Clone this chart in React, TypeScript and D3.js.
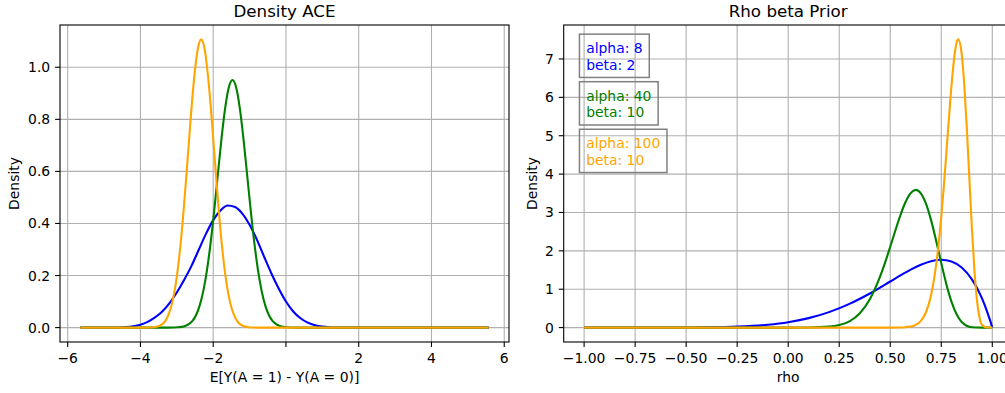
import React, { useEffect, useRef } from "react";
import * as d3 from "d3";

type Pt = [number, number];

// ---- Left panel: Density ACE ----
const aceBlue: Pt[] = [
  [-5.65, 0], [-4.8, 0], [-4.6, 0.0005], [-4.4, 0.002], [-4.2, 0.005], [-4.0, 0.011], [-3.8, 0.022],
  [-3.6, 0.039], [-3.4, 0.062], [-3.2, 0.094], [-3.0, 0.135], [-2.8, 0.183], [-2.6, 0.236],
  [-2.4, 0.298], [-2.2, 0.36], [-2.0, 0.413], [-1.8, 0.45], [-1.6, 0.469], [-1.4, 0.463],
  [-1.2, 0.438], [-1.0, 0.395], [-0.8, 0.338], [-0.6, 0.272], [-0.4, 0.208], [-0.2, 0.15],
  [0.0, 0.1], [0.2, 0.062], [0.4, 0.036], [0.6, 0.019], [0.8, 0.009], [1.0, 0.004],
  [1.2, 0.0015], [1.4, 0.0005], [1.7, 0], [5.57, 0],
];
const aceGreen: Pt[] = [
  [-5.65, 0], [-3.47, 0], [-3.27, 0.00005], [-3.07, 0.0005], [-2.97, 0.0012], [-2.87, 0.0028],
  [-2.77, 0.0062], [-2.67, 0.0131], [-2.57, 0.026], [-2.47, 0.0486], [-2.37, 0.0855],
  [-2.27, 0.142], [-2.17, 0.222], [-2.07, 0.326], [-1.97, 0.452], [-1.87, 0.591], [-1.77, 0.728],
  [-1.67, 0.844], [-1.57, 0.923], [-1.47, 0.951], [-1.37, 0.923], [-1.27, 0.844], [-1.17, 0.728],
  [-1.07, 0.591], [-0.97, 0.452], [-0.87, 0.326], [-0.77, 0.222], [-0.67, 0.142], [-0.57, 0.0855],
  [-0.47, 0.0486], [-0.37, 0.026], [-0.27, 0.0131], [-0.17, 0.0062], [-0.07, 0.0028],
  [0.03, 0.0012], [0.13, 0.0005], [0.33, 0.00005], [0.53, 0], [5.57, 0],
];
const aceOrange: Pt[] = [
  [-5.65, 0], [-3.93, 0], [-3.73, 0.0005], [-3.63, 0.0016], [-3.53, 0.004], [-3.43, 0.01],
  [-3.33, 0.023], [-3.23, 0.049], [-3.13, 0.094], [-3.03, 0.167], [-2.93, 0.276], [-2.83, 0.422],
  [-2.73, 0.597], [-2.63, 0.783], [-2.53, 0.949], [-2.43, 1.065], [-2.33, 1.107], [-2.23, 1.065],
  [-2.13, 0.949], [-2.03, 0.783], [-1.93, 0.597], [-1.83, 0.422], [-1.73, 0.276], [-1.63, 0.167],
  [-1.53, 0.094], [-1.43, 0.049], [-1.33, 0.023], [-1.23, 0.01], [-1.13, 0.004], [-1.03, 0.0016],
  [-0.93, 0.0005], [-0.73, 0], [5.57, 0],
];
const aceXTicks = [-6, -4, -2, 0, 2, 4, 6];
const aceXTickLabels = ["\u22126", "\u22124", "\u22122", "", "2", "4", "6"];
const aceYTicks = [0, 0.2, 0.4, 0.6, 0.8, 1.0];
const aceYTickLabels = ["0.0", "0.2", "0.4", "0.6", "0.8", "1.0"];

// ---- Right panel: Rho beta Prior ----
const rhoBlue: Pt[] = [
  [-1, 0], [-0.75, 0], [-0.6, 0.0004], [-0.5, 0.0017], [-0.4, 0.0055], [-0.25, 0.024],
  [-0.1, 0.074], [0, 0.141], [0.1, 0.247], [0.2, 0.403], [0.3, 0.618], [0.4, 0.889], [0.5, 1.201],
  [0.55, 1.36], [0.6, 1.51], [0.65, 1.639], [0.7, 1.731], [0.75, 1.767], [0.8, 1.722],
  [0.85, 1.564], [0.9, 1.257], [0.925, 1.033], [0.95, 0.754], [0.975, 0.412], [0.99, 0.174], [1, 0],
];
const rhoGreen: Pt[] = [
  [-1, 0], [0, 0.0001], [0.1, 0.0023], [0.2, 0.0242], [0.25, 0.066], [0.3, 0.164], [0.35, 0.367],
  [0.4, 0.738], [0.45, 1.326], [0.475, 1.698], [0.5, 2.108], [0.525, 2.531], [0.55, 2.933],
  [0.575, 3.273], [0.6, 3.506], [0.625, 3.59], [0.65, 3.5], [0.675, 3.229], [0.7, 2.8],
  [0.725, 2.261], [0.75, 1.68], [0.775, 1.132], [0.8, 0.677], [0.825, 0.349], [0.85, 0.148],
  [0.9, 0.0109], [0.95, 0.00002], [1, 0],
];
const rhoOrange: Pt[] = [
  [-1, 0], [0.5, 0], [0.55, 0.0035], [0.575, 0.0101], [0.6, 0.028], [0.625, 0.072], [0.65, 0.176],
  [0.675, 0.4], [0.7, 0.845], [0.725, 1.638], [0.7375, 2.202], [0.75, 2.886], [0.7625, 3.68],
  [0.775, 4.553], [0.7875, 5.453], [0.8, 6.3], [0.8125, 6.99], [0.825, 7.421], [0.8333, 7.51],
  [0.85, 7.128], [0.8625, 6.344], [0.875, 5.217], [0.8875, 3.902], [0.9, 2.598], [0.9125, 1.495],
  [0.925, 0.712], [0.9375, 0.262], [0.95, 0.066], [0.975, 0.0005], [1, 0],
];
const rhoXTicks = [-1, -0.75, -0.5, -0.25, 0, 0.25, 0.5, 0.75, 1];
const rhoXTickLabels = ["\u22121.00", "\u22120.75", "\u22120.50", "\u22120.25", "0.00", "0.25", "0.50", "0.75", "1.00"];
const rhoYTicks = [0, 1, 2, 3, 4, 5, 6, 7];
const rhoYTickLabels = ["0", "1", "2", "3", "4", "5", "6", "7"];

const priorAlpha = [8, 40, 100];
const priorBeta = [2, 10, 10];
const seriesColors = ["blue", "green", "orange"];

const FONT = "'DejaVu Sans', sans-serif";

export default function App() {
  const ref = useRef<SVGSVGElement>(null);

  useEffect(() => {
    const svg = d3.select(ref.current!);
    svg.selectAll("*").remove();

    const panels = [
      {
        left: 60, top: 25, width: 449, height: 317,
        series: [aceBlue, aceGreen, aceOrange],
        xTicks: aceXTicks, xTickLabels: aceXTickLabels,
        yTicks: aceYTicks, yTickLabels: aceYTickLabels,
        title: "Density ACE", xLabel: "E[Y(A = 1) - Y(A = 0)]", yLabelX: 18.5,
        boxes: false,
      },
      {
        left: 563.7, top: 25, width: 449, height: 317,
        series: [rhoBlue, rhoGreen, rhoOrange],
        xTicks: rhoXTicks, xTickLabels: rhoXTickLabels,
        yTicks: rhoYTicks, yTickLabels: rhoYTickLabels,
        title: "Rho beta Prior", xLabel: "rho", yLabelX: 536.5,
        boxes: true,
      },
    ];

    panels.forEach((p) => {
      const all = p.series.flat();
      const [x0, x1] = d3.extent(all, (d) => d[0]) as [number, number];
      const [y0, y1] = d3.extent(all, (d) => d[1]) as [number, number];
      const mx = (x1 - x0) * 0.05;
      const my = (y1 - y0) * 0.05;
      const x = d3.scaleLinear().domain([x0 - mx, x1 + mx]).range([p.left, p.left + p.width]);
      const y = d3.scaleLinear().domain([y0 - my, y1 + my]).range([p.top + p.height, p.top]);

      const g = svg.append("g");

      // grid
      g.selectAll(".vg").data(p.xTicks).enter().append("line")
        .attr("x1", (d) => x(d)).attr("x2", (d) => x(d))
        .attr("y1", p.top).attr("y2", p.top + p.height)
        .attr("stroke", "#b0b0b0").attr("stroke-width", 1.1);
      g.selectAll(".hg").data(p.yTicks).enter().append("line")
        .attr("x1", p.left).attr("x2", p.left + p.width)
        .attr("y1", (d) => y(d)).attr("y2", (d) => y(d))
        .attr("stroke", "#b0b0b0").attr("stroke-width", 1.1);

      // lines
      const line = d3.line<Pt>().x((d) => x(d[0])).y((d) => y(d[1])).curve(d3.curveMonotoneX);
      p.series.forEach((s, i) => {
        g.append("path").attr("d", line(s)!).attr("fill", "none")
          .attr("stroke", seriesColors[i]).attr("stroke-width", 2.1)
          .attr("stroke-linejoin", "round").attr("stroke-linecap", "butt");
      });

      // spines
      g.append("rect").attr("x", p.left).attr("y", p.top).attr("width", p.width).attr("height", p.height)
        .attr("fill", "none").attr("stroke", "black").attr("stroke-width", 1.1);

      // x ticks
      p.xTicks.forEach((t, i) => {
        g.append("line").attr("x1", x(t)).attr("x2", x(t))
          .attr("y1", p.top + p.height).attr("y2", p.top + p.height + 4.9)
          .attr("stroke", "black").attr("stroke-width", 1.1);
        g.append("text").attr("x", x(t)).attr("y", p.top + p.height + 21)
          .attr("text-anchor", "middle").attr("font-family", FONT).attr("font-size", 13.9)
          .attr("fill", "black").text(p.xTickLabels[i]);
      });
      // y ticks
      p.yTicks.forEach((t, i) => {
        g.append("line").attr("x1", p.left - 4.9).attr("x2", p.left)
          .attr("y1", y(t)).attr("y2", y(t))
          .attr("stroke", "black").attr("stroke-width", 1.1);
        g.append("text").attr("x", p.left - 9.8).attr("y", y(t)).attr("dy", "0.36em")
          .attr("text-anchor", "end").attr("font-family", FONT).attr("font-size", 13.9)
          .attr("fill", "black").text(p.yTickLabels[i]);
      });

      // title & labels
      g.append("text").attr("x", p.left + p.width / 2).attr("y", 17)
        .attr("text-anchor", "middle").attr("font-family", FONT).attr("font-size", 16.7)
        .attr("fill", "black").text(p.title);
      g.append("text").attr("x", p.left + p.width / 2).attr("y", 382)
        .attr("text-anchor", "middle").attr("font-family", FONT).attr("font-size", 13.9)
        .attr("fill", "black").text(p.xLabel);
      g.append("text")
        .attr("transform", `translate(${p.yLabelX},${p.top + p.height / 2}) rotate(-90)`)
        .attr("text-anchor", "middle").attr("font-family", FONT).attr("font-size", 13.9)
        .attr("fill", "black").text("Density");

      // annotation boxes
      if (p.boxes) {
        const fracs = [0.95, 0.8, 0.65];
        priorAlpha.forEach((a, i) => {
          const tx = p.left + 0.05 * p.width;
          const ttop = p.top + (1 - fracs[i]) * p.height;
          const bg = g.append("g");
          const rect = bg.append("rect");
          const t = bg.append("text").attr("font-family", FONT).attr("font-size", 13.9)
            .attr("fill", seriesColors[i]);
          t.append("tspan").attr("x", tx).attr("y", ttop + 12.3).text(`alpha: ${a}`);
          t.append("tspan").attr("x", tx).attr("y", ttop + 29).text(`beta: ${priorBeta[i]}`);
          const w = (t.node() as SVGTextElement).getBBox().width;
          const pad = 6.7;
          rect.attr("x", tx - pad).attr("y", ttop - pad).attr("width", w + 2 * pad)
            .attr("height", 43.3).attr("fill", "none")
            .attr("stroke", "#808080").attr("stroke-width", 1.5);
        });
      }
    });
  }, []);

  return (
    <svg
      ref={ref}
      width={1005}
      height={393}
      style={{ position: "absolute", left: 0, top: 0, background: "white" }}
    />
  );
}
